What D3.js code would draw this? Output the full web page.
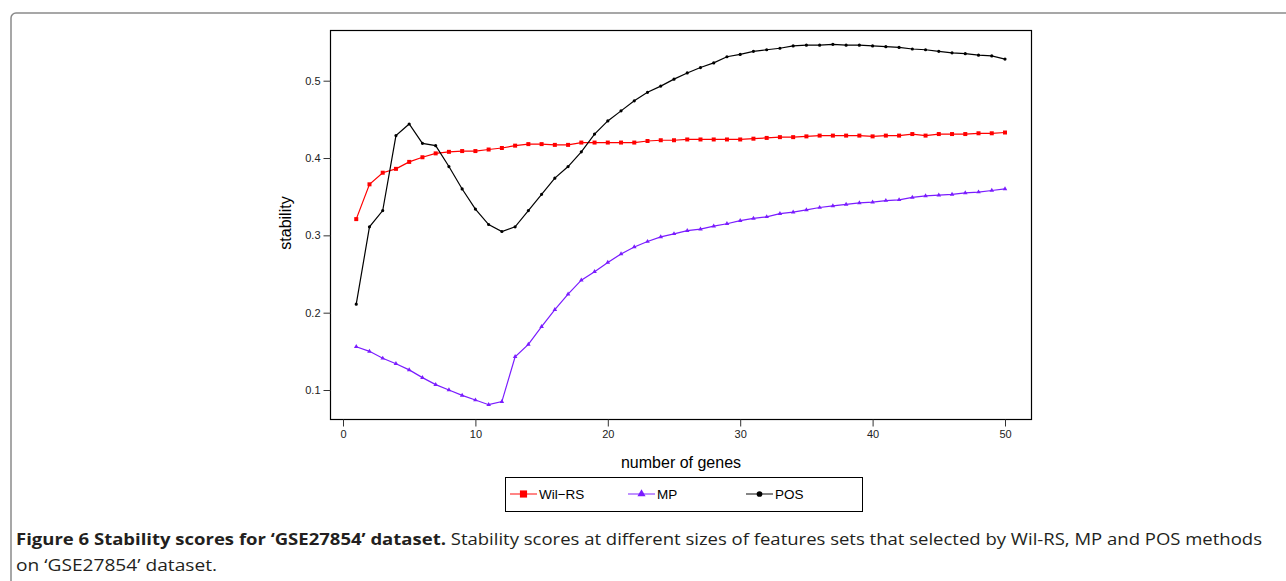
<!DOCTYPE html>
<html>
<head>
<meta charset="utf-8">
<script src="https://cdn.jsdelivr.net/npm/d3@7"></script>
<style>
  body { margin: 0; background: #fff; }
  svg { display: block; }
  .tick text { font-family: "Liberation Sans", Arial, sans-serif; font-size: 11px; fill: #222; }
</style>
</head>
<body>
<svg id="chart" width="1286" height="581"></svg>
<script>
// number of genes on the x axis
const genes = d3.range(1, 51);

// stability values, one per gene count
const wilRS = [0.321, 0.366, 0.381, 0.386, 0.395, 0.401, 0.406, 0.408, 0.409, 0.409,
  0.411, 0.413, 0.416, 0.418, 0.418, 0.417, 0.417, 0.420, 0.420, 0.420,
  0.420, 0.420, 0.422, 0.423, 0.423, 0.424, 0.424, 0.424, 0.424, 0.424,
  0.425, 0.426, 0.427, 0.427, 0.428, 0.429, 0.429, 0.429, 0.429, 0.428,
  0.429, 0.429, 0.431, 0.429, 0.431, 0.431, 0.431, 0.432, 0.432, 0.433];

const mp = [0.156, 0.150, 0.141, 0.134, 0.126, 0.116, 0.107, 0.100, 0.093, 0.087,
  0.081, 0.085, 0.143, 0.159, 0.182, 0.204, 0.224, 0.242, 0.253, 0.265,
  0.276, 0.285, 0.292, 0.298, 0.302, 0.306, 0.308, 0.312, 0.315, 0.319,
  0.322, 0.324, 0.328, 0.330, 0.333, 0.336, 0.338, 0.340, 0.342, 0.343,
  0.345, 0.346, 0.349, 0.351, 0.352, 0.353, 0.355, 0.356, 0.358, 0.360];

const pos = [0.211, 0.311, 0.332, 0.429, 0.444, 0.419, 0.416, 0.389, 0.360, 0.334,
  0.314, 0.305, 0.311, 0.332, 0.353, 0.374, 0.389, 0.408, 0.431, 0.448,
  0.461, 0.474, 0.485, 0.493, 0.502, 0.510, 0.517, 0.523, 0.531, 0.534,
  0.538, 0.540, 0.542, 0.545, 0.546, 0.546, 0.547, 0.546, 0.546, 0.545,
  0.544, 0.543, 0.541, 0.540, 0.538, 0.536, 0.535, 0.533, 0.532, 0.528];

const xTicks = [0, 10, 20, 30, 40, 50];
const yTicks = [0.1, 0.2, 0.3, 0.4, 0.5];

const seriesList = [
  { name: "Wil\u2212RS", values: wilRS, colour: "#ff0000", shape: d3.symbolSquare, size: 16 },
  { name: "MP", values: mp, colour: "#7a1cff", shape: d3.symbolTriangle, size: 9 },
  { name: "POS", values: pos, colour: "#000000", shape: d3.symbolCircle, size: 8 }
];

const svg = d3.select("#chart");

// outer figure frame (rounded, runs off the right and bottom edges)
svg.append("rect")
  .attr("x", 11).attr("y", 13)
  .attr("width", 1320).attr("height", 620)
  .attr("rx", 5)
  .attr("fill", "none")
  .attr("stroke", "#8a8a8a")
  .attr("stroke-width", 1.5);

// plot box
const box = { left: 330.5, right: 1031.5, top: 30.5, bottom: 419.5 };

const x = d3.scaleLinear().domain([0, 50]).range([343, 1005]);
const y = d3.scaleLinear().domain([0.1, 0.5]).range([390, 80.7]);

svg.append("rect")
  .attr("x", box.left).attr("y", box.top)
  .attr("width", box.right - box.left).attr("height", box.bottom - box.top)
  .attr("fill", "none")
  .attr("stroke", "#000")
  .attr("stroke-width", 1.2);

// axes
const xAxis = svg.append("g")
  .attr("transform", `translate(0,${box.bottom})`)
  .call(d3.axisBottom(x).tickValues(xTicks).tickSize(7).tickPadding(4));
xAxis.select(".domain").remove();

const yAxis = svg.append("g")
  .attr("transform", `translate(${box.left},0)`)
  .call(d3.axisLeft(y).tickValues(yTicks).tickSize(7).tickPadding(3).tickFormat(d3.format(".1f")));
yAxis.select(".domain").remove();

svg.selectAll(".tick line").attr("stroke", "#333");

// axis titles
svg.append("text")
  .attr("x", 681).attr("y", 468)
  .attr("text-anchor", "middle")
  .style("font-family", "Liberation Sans, Arial, sans-serif")
  .style("font-size", "16px")
  .text("number of genes");

svg.append("text")
  .attr("transform", "translate(291,223) rotate(-90)")
  .attr("text-anchor", "middle")
  .style("font-family", "Liberation Sans, Arial, sans-serif")
  .style("font-size", "16px")
  .text("stability");

// lines and markers
const line = d3.line()
  .x((d, i) => x(genes[i]))
  .y(d => y(d));

seriesList.forEach(s => {
  svg.append("path")
    .datum(s.values)
    .attr("fill", "none")
    .attr("stroke", s.colour)
    .attr("stroke-width", 1.2)
    .attr("d", line);

  svg.append("g")
    .selectAll("path")
    .data(s.values)
    .enter()
    .append("path")
    .attr("transform", (d, i) => `translate(${x(genes[i])},${y(d)})`)
    .attr("d", d3.symbol().type(s.shape).size(s.size))
    .attr("fill", s.colour);
});

// legend
const legend = svg.append("g");
legend.append("rect")
  .attr("x", 505.5).attr("y", 477.5)
  .attr("width", 357).attr("height", 34)
  .attr("fill", "#fff")
  .attr("stroke", "#000");

const legendX = [510, 628, 746];
seriesList.forEach((s, i) => {
  const g = legend.append("g").attr("transform", `translate(${legendX[i]},494)`);
  g.append("line")
    .attr("x1", 0).attr("x2", 27)
    .attr("stroke", s.colour)
    .attr("stroke-opacity", 0.6)
    .attr("stroke-width", 1.6);
  g.append("path")
    .attr("transform", "translate(13.5,0)")
    .attr("d", d3.symbol().type(s.shape).size(s.size * 3.2))
    .attr("fill", s.colour);
  g.append("text")
    .attr("x", 29).attr("y", 5)
    .style("font-family", "Liberation Sans, Arial, sans-serif")
    .style("font-size", "13.5px")
    .text(s.name);
});

// caption
const cap1 = svg.append("text")
  .attr("x", 16).attr("y", 545)
  .attr("textLength", 1246)
  .attr("lengthAdjust", "spacingAndGlyphs")
  .style("font-family", "Open Sans, Noto Sans, sans-serif")
  .style("font-size", "16px")
  .style("fill", "#231f20");
cap1.append("tspan").style("font-weight", "bold")
  .text("Figure 6 Stability scores for \u2018GSE27854\u2019 dataset.");
cap1.append("tspan")
  .text(" Stability scores at different sizes of features sets that selected by Wil-RS, MP and POS methods");

svg.append("text")
  .attr("x", 16).attr("y", 571)
  .attr("textLength", 201)
  .attr("lengthAdjust", "spacingAndGlyphs")
  .style("font-family", "Open Sans, Noto Sans, sans-serif")
  .style("font-size", "16px")
  .style("fill", "#231f20")
  .text("on \u2018GSE27854\u2019 dataset.");
</script>
</body>
</html>
